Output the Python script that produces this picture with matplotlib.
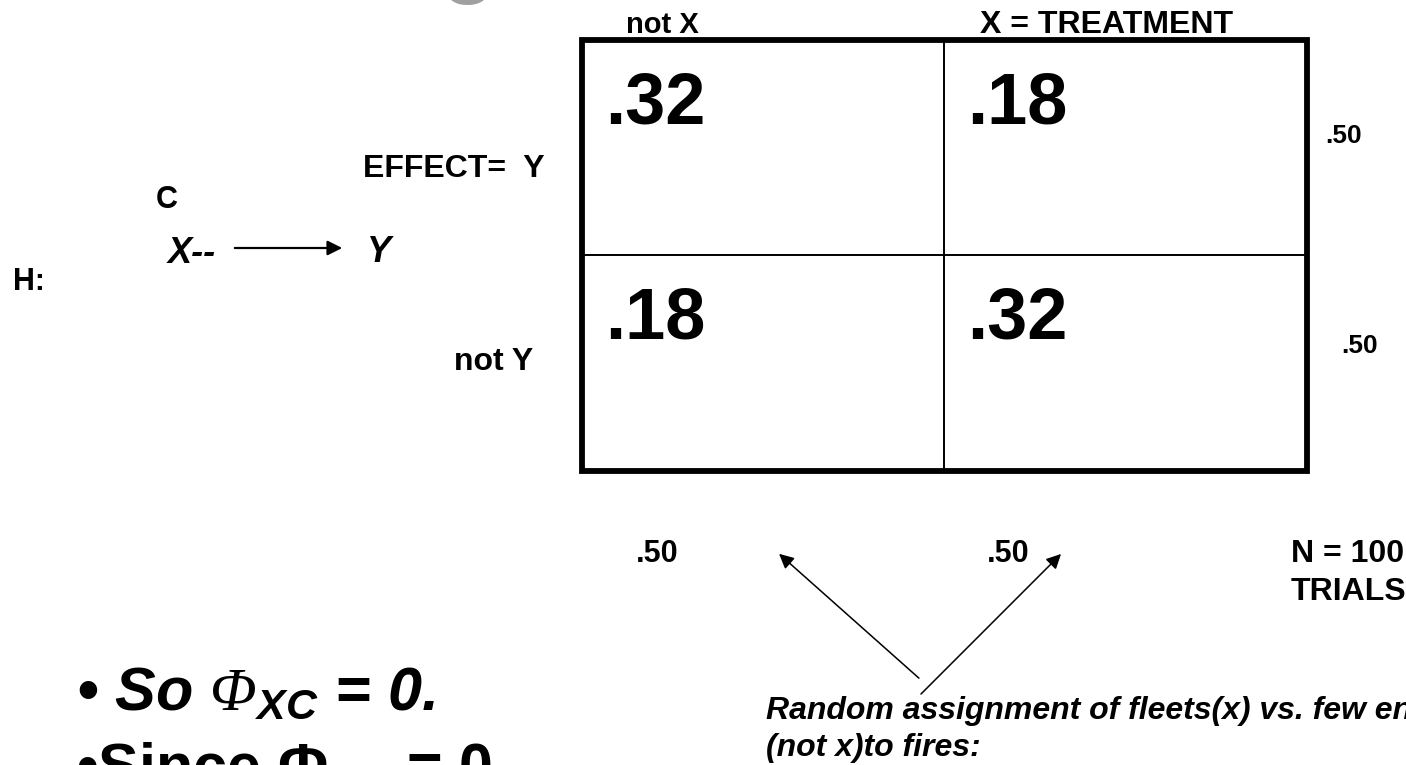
import numpy as np
import matplotlib.pyplot as plt
from matplotlib.patches import Rectangle

plt.rcParams['font.family'] = ['Liberation Sans', 'DejaVu Sans']
plt.rcParams['mathtext.fontset'] = 'custom'
plt.rcParams['mathtext.rm'] = 'Liberation Serif:italic'

# 2x2 table of proportions (100 trials)
col_labels = ['not X', 'X = TREATMENT']
row_labels = ['EFFECT=  Y', 'not Y']
cell_props = np.array([[0.32, 0.18],
                       [0.18, 0.32]])
row_totals = [0.50, 0.50]
col_totals = [0.50, 0.50]
n_trials = 100


def fmt(v):
    return "{:.2f}".format(v).lstrip('0')


fig = plt.figure(figsize=(14.06, 7.65), dpi=100)
ax = fig.add_axes([0, 0, 1, 1])
ax.set_xlim(0, 1406)
ax.set_ylim(765, 0)
ax.axis('off')

# grid of the table
col_edges = [582, 944, 1307]
row_edges = [40, 255, 471]
ax.add_patch(Rectangle((col_edges[0], row_edges[0]), col_edges[-1] - col_edges[0],
                       row_edges[-1] - row_edges[0], fill=False, lw=4.2, ec='black'))
ax.vlines(col_edges[1], row_edges[0], row_edges[-1], color='black', lw=1.4)
ax.hlines(row_edges[1], col_edges[0], col_edges[-1], color='black', lw=1.4)

for i in range(2):
    for j in range(2):
        ax.text(col_edges[j] + 23, row_edges[i] + 83, fmt(cell_props[i, j]),
                fontsize=52, fontweight='bold', va='baseline', ha='left')

col_dx = [44, 36]
col_fs = [21, 23]
for j, lab in enumerate(col_labels):
    ax.text(col_edges[j] + col_dx[j], 33, lab, fontsize=col_fs[j], fontweight='bold',
            va='baseline')

row_x = [545, 533]
row_y = [177, 370]
for i, lab in enumerate(row_labels):
    ax.text(row_x[i], row_y[i], lab, fontsize=23, fontweight='bold', ha='right', va='baseline')

rt_x = [1325, 1341]
rt_y = [143, 353]
for i, v in enumerate(row_totals):
    ax.text(rt_x[i], rt_y[i], fmt(v), fontsize=19, fontweight='bold', va='baseline')

ct_x = [636, 987]
for j, v in enumerate(col_totals):
    ax.text(ct_x[j], 562, fmt(v), fontsize=22, fontweight='bold', va='baseline')

ax.text(1291, 562, "N = {}".format(n_trials), fontsize=23, fontweight='bold', va='baseline')
ax.text(1291, 600, "TRIALS", fontsize=23, fontweight='bold', va='baseline')

# hypothesis diagram on the left
ax.text(156, 208, "C", fontsize=22, fontweight='bold', va='baseline')
ax.text(168, 263, "X--", fontsize=26, fontweight='bold', style='italic', va='baseline')
ax.annotate("", xy=(345, 248), xytext=(232, 248),
            arrowprops=dict(arrowstyle='-|>', color='black', lw=1.6, mutation_scale=22))
ax.text(367, 262, "Y", fontsize=26, fontweight='bold', style='italic', va='baseline')
ax.text(13, 290, "H:", fontsize=22, fontweight='bold', va='baseline')

# arrows pointing at the column totals
ax.annotate("", xy=(777, 552), xytext=(921, 680),
            arrowprops=dict(arrowstyle='-|>', color='black', lw=1.1, mutation_scale=22))
ax.annotate("", xy=(1063, 552), xytext=(919, 696),
            arrowprops=dict(arrowstyle='-|>', color='black', lw=1.1, mutation_scale=22))

ax.text(766, 719, "Random assignment of fleets(x) vs. few engines", fontsize=23,
        fontweight='bold', style='italic', va='baseline')
ax.text(766, 756, "(not x)to fires:", fontsize=23, fontweight='bold', style='italic',
        va='baseline')

# bullet text at the bottom
ax.text(76, 710, r"• So $\Phi_{\mathdefault{XC}}$ = 0.", fontsize=44,
        fontweight='bold', style='italic', va='baseline')
ax.text(76, 785, r"•Since $\mathdefault{\Phi_{XC}}$ = 0", fontsize=44,
        fontweight='bold', va='baseline')

# remnant of the slide title cut at the top
ax.text(440, -14, "g", fontsize=65, fontweight='bold', color='#a0a0a0', va='baseline')

fig.savefig('out.png', dpi=100)
